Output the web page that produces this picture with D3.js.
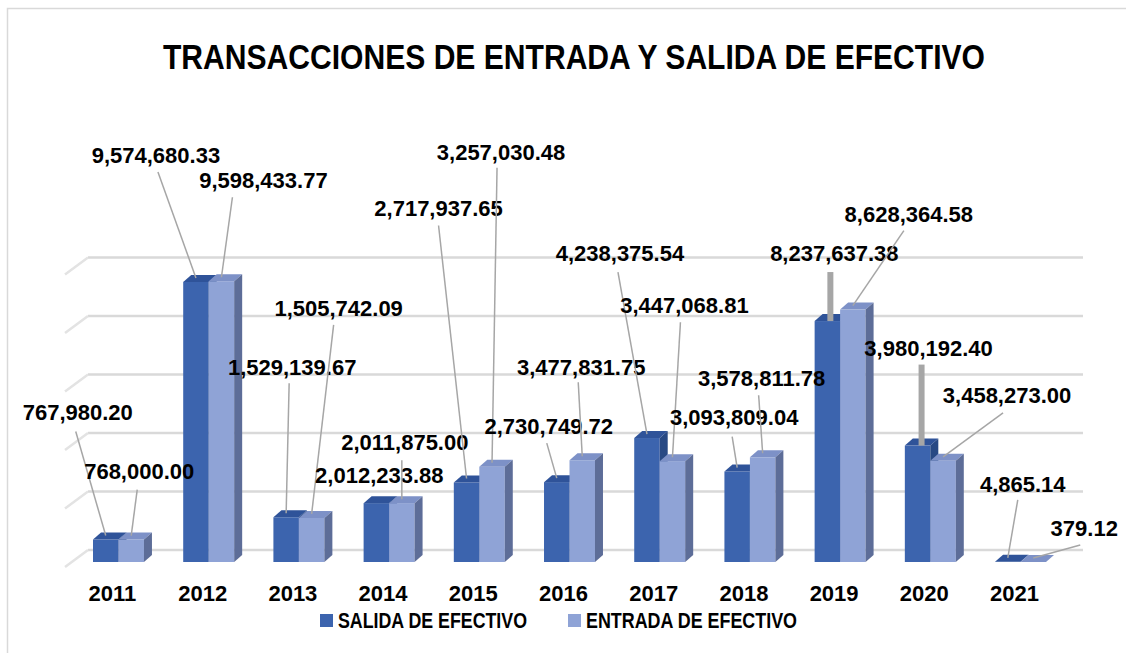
<!DOCTYPE html>
<html>
<head>
<meta charset="utf-8">
<script src="https://cdn.jsdelivr.net/npm/d3@7"></script>
<style>
  html, body { margin: 0; padding: 0; background: #fff; }
  svg { display: block; }
  text { font-family: "Liberation Sans", Arial, sans-serif; font-weight: bold; fill: #000; }
</style>
</head>
<body>
<svg id="chart" width="1126" height="653"></svg>
<script>
// ---- data ----
const years = ["2011","2012","2013","2014","2015","2016","2017","2018","2019","2020","2021"];
const seriesNames = ["SALIDA DE EFECTIVO", "ENTRADA DE EFECTIVO"];
const salida = [767980.20, 9574680.33, 1529139.67, 2012233.88, 2717937.65, 2730749.72, 4238375.54, 3093809.04, 8237637.38, 3980192.40, 4865.14];
const entrada = [768000.00, 9598433.77, 1505742.09, 2011875.00, 3257030.48, 3477831.75, 3447068.81, 3578811.78, 8628364.58, 3458273.00, 379.12];
const title = "TRANSACCIONES DE ENTRADA Y SALIDA DE EFECTIVO";

// ---- label layout (offsets from bar-top anchor; leader start offsets from label centre) ----
const salidaLabelLayout = [
  {dx:-28, dy:-123, lx:-2, ly:19, w:1.5},
  {dx:-40, dy:-123, lx:2, ly:17, w:1.5},
  {dx:6, dy:-146, lx:-3, ly:16, w:1.5},
  {dx:3, dy:-24, lx:null, ly:null, w:0},
  {dx:-28, dy:-270, lx:0, ly:17, w:1.5},
  {dx:-8, dy:-52, lx:-2, ly:17, w:1.5},
  {dx:-27, dy:-181, lx:-2, ly:19, w:1.5},
  {dx:-3, dy:-50, lx:-2, ly:19, w:1.5},
  {dx:7, dy:-64, lx:-4, ly:19, w:6},
  {dx:11, dy:-93, lx:-7, ly:16, w:6},
  {dx:15, dy:-74, lx:-5, ly:16, w:1.5}
];
const entradaLabelLayout = [
  {dx:8, dy:-64, lx:-2, ly:18, w:1.5},
  {dx:42, dy:-97, lx:-31, ly:17, w:1.5},
  {dx:27, dy:-206, lx:-5, ly:17, w:1.5},
  {dx:3, dy:-57, lx:-3, ly:18, w:1.5},
  {dx:9, dy:-311, lx:-4, ly:16, w:1.5},
  {dx:-1, dy:-89, lx:-3, ly:15, w:1.5},
  {dx:12, dy:-152, lx:-4, ly:17, w:1.5},
  {dx:-1, dy:-75, lx:-3, ly:17, w:1.5},
  {dx:56, dy:-92, lx:-5, ly:17, w:1.5},
  {dx:64, dy:-62, lx:-4, ly:18, w:1.5},
  {dx:51, dy:-30, lx:-4, ly:17, w:1.5}
];

const colors = {
  salida: {front:"#3c64ae", top:"#2f5399", side:"#284984"},
  entrada: {front:"#8fa3d6", top:"#7d91c7", side:"#5d6d98"}
};

const svg = d3.select("#chart");
const depthX = 8, depthY = -7;

// chart border
svg.append("rect").attr("x", 7.5).attr("y", 8.5).attr("width", 1130).attr("height", 660)
  .attr("fill", "none").attr("stroke", "#d9d9d9").attr("stroke-width", 1.5);

// title
svg.append("text").attr("x", 574).attr("y", 56).attr("dy", "0.36em")
  .attr("text-anchor", "middle").attr("font-size", 35)
  .attr("textLength", 822).attr("lengthAdjust", "spacingAndGlyphs")
  .text(title);

// scales
const x = d3.scaleBand().domain(years).range([47.9, 1091.1]).paddingInner(0.435).paddingOuter(0.5);
const xSub = d3.scaleBand().domain(["salida","entrada"]).range([0, x.bandwidth()]);
const yFront = d3.scaleLinear().domain([0, 10e6]).range([562, 269.5]);
const yWall = d3.scaleLinear().domain([0, 10e6]).range([550, 257.5]);

// gridlines (back wall + side wall)
const gridG = svg.append("g");
yWall.ticks(5).forEach(t => {
  const yy = yWall(t);
  gridG.append("line").attr("x1", 88).attr("x2", 1083).attr("y1", yy).attr("y2", yy)
    .attr("stroke", "#d9d9d9").attr("stroke-width", 2.5);
  gridG.append("line").attr("x1", 65).attr("y1", yy + 17).attr("x2", 88).attr("y2", yy)
    .attr("stroke", "#e3e3e3").attr("stroke-width", 2.5);
});

// bars
const barsG = svg.append("g");
function drawBar(x0, w, v, c) {
  const x1 = x0 + w;
  const yt = yFront(v), yb = yFront(0);
  const g = barsG.append("g");
  g.append("rect").attr("x", x0).attr("y", yt).attr("width", w).attr("height", Math.max(0, yb - yt))
    .attr("fill", c.front);
  g.append("path").attr("d", `M${x0},${yt}L${x0+depthX},${yt+depthY}L${x1+depthX},${yt+depthY}L${x1},${yt}Z`)
    .attr("fill", c.top);
  g.append("path").attr("d", `M${x1},${yt}L${x1+depthX},${yt+depthY}L${x1+depthX},${yb+depthY}L${x1},${yb}Z`)
    .attr("fill", c.side);
}
years.forEach((yr, i) => {
  drawBar(x(yr) + xSub("salida"), xSub.bandwidth(), salida[i], colors.salida);
  drawBar(x(yr) + xSub("entrada"), xSub.bandwidth(), entrada[i], colors.entrada);
});

// data labels + leader lines
const fmt = d3.format(",.2f");
const labG = svg.append("g");
function drawLabel(yr, key, v, lay) {
  const ax = x(yr) + xSub(key) + xSub.bandwidth() / 2;
  const ay = yFront(v) - 4;
  const cx = ax + lay.dx, cy = ay + lay.dy;
  if (lay.lx !== null) {
    const thick = lay.w > 2;
    const sx = cx + lay.lx;
    labG.append("line").attr("x1", sx).attr("y1", cy + lay.ly)
      .attr("x2", thick ? sx : ax).attr("y2", thick ? yFront(v) : ay)
      .attr("stroke", "#a6a6a6").attr("stroke-width", lay.w);
  }
  labG.append("text").attr("x", cx).attr("y", cy).attr("dy", "0.36em")
    .attr("text-anchor", "middle").attr("font-size", 22).text(fmt(v));
}
years.forEach((yr, i) => {
  drawLabel(yr, "salida", salida[i], salidaLabelLayout[i]);
  drawLabel(yr, "entrada", entrada[i], entradaLabelLayout[i]);
});

// category axis labels
svg.append("g").selectAll("text").data(years).join("text")
  .attr("x", d => x(d) + x.bandwidth() / 2 - 6)
  .attr("y", 593).attr("dy", "0.36em")
  .attr("text-anchor", "middle").attr("font-size", 22)
  .text(d => d);

// legend
const legend = [
  {name: seriesNames[0], color: colors.salida.front, x: 320, w: 189},
  {name: seriesNames[1], color: colors.entrada.front, x: 568, w: 211}
];
const lg = svg.append("g");
legend.forEach(l => {
  lg.append("rect").attr("x", l.x).attr("y", 614).attr("width", 13).attr("height", 13).attr("fill", l.color);
  lg.append("text").attr("x", l.x + 18).attr("y", 620.5).attr("dy", "0.36em")
    .attr("font-size", 22).attr("textLength", l.w).attr("lengthAdjust", "spacingAndGlyphs")
    .text(l.name);
});
</script>
</body>
</html>
